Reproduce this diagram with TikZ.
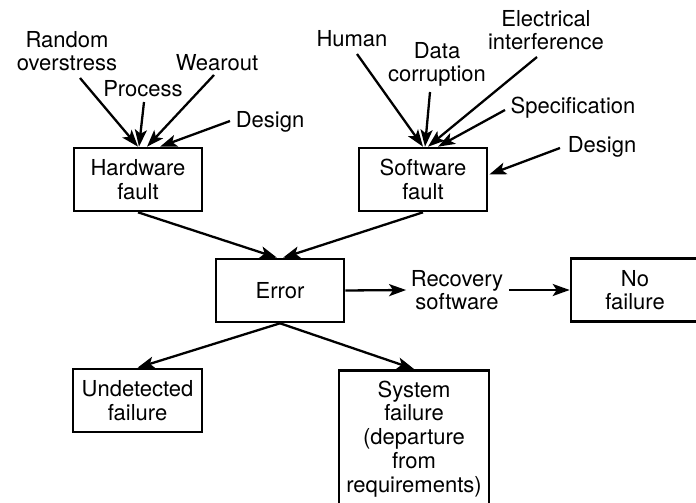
\documentclass[tikz,border=0pt]{standalone}
\usepackage{fontspec}
\setmainfont{TeX Gyre Heros}
\usetikzlibrary{arrows.meta,calc}
\newcommand\dfont{\fontsize{22}{23.7}\selectfont}
\begin{document}
\begin{tikzpicture}[x=1pt,y=-1pt,
  box/.style={draw, line width=2.6pt, minimum width=128pt, minimum height=63pt, inner sep=0pt, align=center, font=\dfont},
  lbl/.style={inner sep=0pt, align=center, font=\dfont},
  arr/.style={-{Stealth[length=17pt,width=12pt,inset=4pt]}, line width=2.3pt}]
\useasboundingbox (0,0) rectangle (696,503);
% boxes
\node[box] (hw) at (138,179.5) {Hardware\\fault};
\node[box] (sw) at (423,179.5) {Software\\fault};
\node[box] (err) at (280,290.5) {Error};
\node[box] (nof) at (635,290) {No\\failure};
\node[box, minimum width=129pt] (und) at (137.5,400.5) {Undetected\\failure};
\node[box, minimum width=150pt, minimum height=137pt, anchor=north] (sys) at (414,369) {System\\failure\\(departure\\from\\requirements)};
% labels
\node[lbl] (random) at (67,51) {Random\\overstress};
\node[lbl] (process) at (143,89) {Process};
\node[lbl] (wearout) at (217,63) {Wearout};
\node[lbl] (hwdesign) at (270,122) {Design};
\node[lbl] (human) at (352,39) {Human};
\node[lbl] (data) at (437,64.5) {Data\\corruption};
\node[lbl] (elec) at (546,30) {Electrical\\interference};
\node[lbl] (spec) at (573,108) {Specification};
\node[lbl] (swdesign) at (602,147) {Design};
\node[lbl] (rec) at (457,290) {Recovery\\software};
% arrows into hardware fault
\draw[arr] ($(random.center)+(13,27)$) -- (hw.north);
\draw[arr] ($(process.center)+(1,13)$) -- ($(hw.north)+(1,0)$);
\draw[arr] ($(wearout.center)+(-3,12)$) -- ($(hw.north)+(9,0)$);
\draw[arr] ($(hwdesign.center)+(-40,-1)$) -- ($(hw.north)+(22,0)$);
% arrows into software fault
\draw[arr] ($(human.center)+(5,15)$) -- (sw.north);
\draw[arr] ($(data.center)+(-7,27.5)$) -- ($(sw.north)+(2,0)$);
\draw[arr] ($(elec.center)+(-9,27)$) -- ($(sw.north)+(5,0)$);
\draw[arr] ($(spec.center)+(-68,2)$) -- ($(sw.north)+(15,0)$);
\draw[arr] ($(swdesign.center)+(-42,1)$) -- ($(sw.east)+(1,-5)$);
% main flow
\draw[arr] (hw.south) -- ($(err.north)+(-3,0)$);
\draw[arr] (sw.south) -- ($(err.north)+(3,0)$);
\draw[arr] (err.south) -- (und.north);
\draw[arr] (err.south) -- (sys.north);
\draw[arr] (err.east) -- ($(rec.west)+(-4.5,0)$);
\draw[arr] ($(rec.east)+(5.5,0)$) -- (nof.west);
\end{tikzpicture}
\end{document}
